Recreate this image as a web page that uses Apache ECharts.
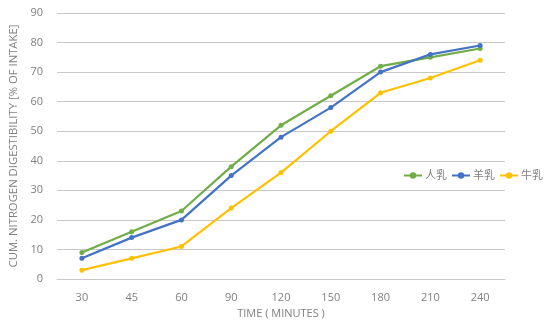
<!DOCTYPE html>
<html><head><meta charset="utf-8">
<script src="https://cdn.jsdelivr.net/npm/echarts@6/dist/echarts.min.js"></script>
<style>html,body{margin:0;padding:0;background:#fff}#c{width:550px;height:323px}</style>
</head><body><div id="c"></div>
<script>
const categories = ['30','45','60','90','120','150','180','210','240'];
const human = [9,16,23,38,52,62,72,75,78];
const goat = [7,14,20,35,48,58,70,76,79];
const cow = [3,7,11,24,36,50,63,68,74];
const names = ['人乳','羊乳','牛乳'];
const colors = ['#70AD47','#4472C4','#FFC000'];
const font = '"Open Sans", "Noto Sans CJK SC", sans-serif';
const chart = echarts.init(document.getElementById('c'));
const mk = (n, d, c) => ({
  name: n, type: 'line', data: d, symbol: 'circle', symbolSize: 5,
  lineStyle: {width: 2.2, color: c}, itemStyle: {color: c}
});
chart.setOption({
  animation: false,
  textStyle: {fontFamily: font},
  grid: {left: 57, right: 45, top: 13, bottom: 44, outerBoundsMode: 'none'},
  legend: {
    right: 2, top: 165, itemWidth: 18, itemHeight: 8, itemGap: 4,
    textStyle: {color: '#808080', fontSize: 11, fontFamily: font, padding: [0, 0, 0, -2]},
    data: names
  },
  xAxis: {
    type: 'category', data: categories, boundaryGap: true,
    name: 'TIME ( MINUTES )', nameLocation: 'middle', nameGap: 28,
    nameTextStyle: {color: '#808080', fontSize: 11},
    axisLine: {lineStyle: {color: '#c8c8c8'}}, axisTick: {show: false},
    axisLabel: {color: '#808080', fontSize: 11, margin: 13}
  },
  yAxis: {
    type: 'value', min: 0, max: 90, interval: 10,
    name: 'CUM. NITROGEN DIGESTIBILITY [% OF INTAKE]', nameLocation: 'middle', nameGap: 36,
    nameTextStyle: {color: '#808080', fontSize: 11.3},
    axisLine: {show: false}, axisTick: {show: false},
    axisLabel: {color: '#808080', fontSize: 11, margin: 14},
    splitLine: {lineStyle: {color: '#c8c8c8', width: 1}}
  },
  series: [mk(names[0], human, colors[0]), mk(names[1], goat, colors[1]), mk(names[2], cow, colors[2])]
});
</script></body></html>
